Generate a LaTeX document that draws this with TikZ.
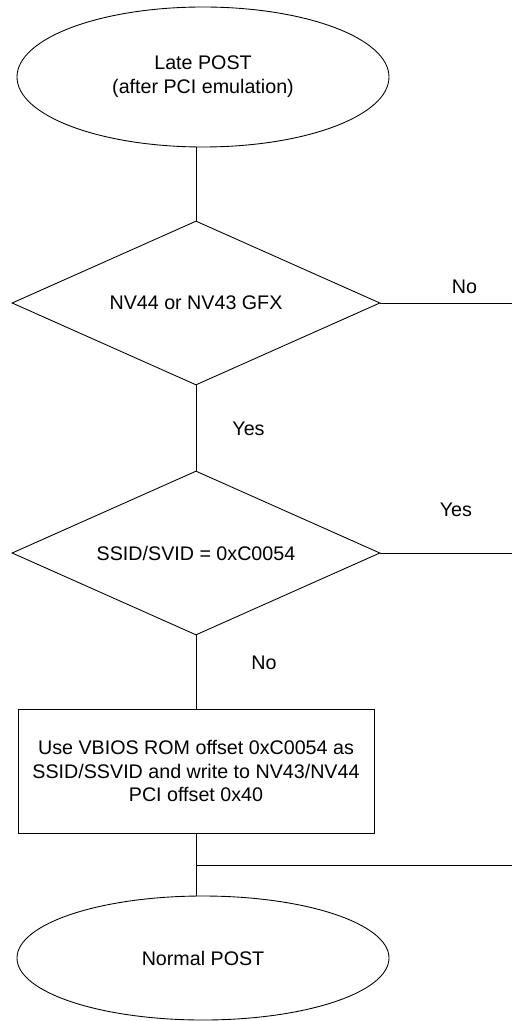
\documentclass[tikz,border=0pt]{standalone}
\usepackage{fontspec}
\setmainfont{Liberation Sans}
\usetikzlibrary{shapes.geometric,positioning}
\begin{document}
\begin{tikzpicture}[line width=0.5pt,
        font=\fontsize{11.2}{13.6}\selectfont,
        terminal/.style={draw, ellipse, inner sep=0pt, minimum width=7.44cm, align=center},
        decision/.style={draw, diamond, aspect=2.24, inner sep=0pt, minimum width=7.36cm, minimum height=3.28cm},
        process/.style={draw, rectangle, minimum width=7.12cm, minimum height=2.48cm, align=center},
        answer/.style={inner sep=0pt}]
                \useasboundingbox (0,0) rectangle (10.24,-20.42);
                \coordinate (edge) at (10.24,0);
                \node (start) [terminal, minimum height=2.8cm] at (4.06,-1.54) {Late POST\\(after PCI emulation)};
                \node (test1) [decision, below of=start, node distance=4.52cm, xshift=-0.14cm] {NV44 or NV43 GFX};
                \node (test2) [decision, below of=test1, node distance=5cm] {SSID/SVID = 0xC0054};
                \node (action) [process, below of=test2, node distance=4.36cm] {Use VBIOS ROM offset 0xC0054 as\\SSID/SSVID and write to NV43/NV44\\PCI offset 0x40};
                \node (stop) [terminal, minimum height=2.48cm, below of=action, node distance=3.74cm, xshift=0.14cm] {Normal POST};
                \path (action.south) ++(0,-0.64) coordinate (merge);
                \coordinate (exit1) at (test1.east -| edge);
                \coordinate (exit2) at (test2.east -| edge);
                \coordinate (exit3) at (merge -| edge);
                \node (no1) [answer, above right=0.18cm and 1.42cm of test1.east, anchor=base west] {No};
                \node (yes1) [answer, below right=1cm and 0.72cm of test1.south, anchor=base west] {Yes};
                \node (yes2) [answer, above right=0.74cm and 1.18cm of test2.east, anchor=base west] {Yes};
                \node (no2) [answer, below right=0.68cm and 1.1cm of test2.south, anchor=base west] {No};
                \draw (test1.north |- start.south) -- (test1.north);
                \draw (test1.east) -- (exit1);
                \draw (test1.south) -- (test2.north);
                \draw (test2.east) -- (exit2);
                \draw (test2.south) -- (action.north);
                \draw (action.south) -- (action.south |- stop.north);
                \draw (merge) -- (exit3);
            \end{tikzpicture}
\end{document}
